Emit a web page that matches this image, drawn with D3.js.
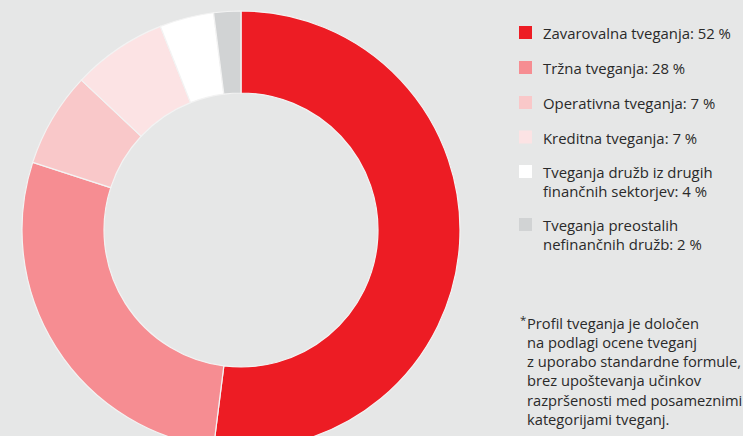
<!DOCTYPE html>
<html>
<head>
<meta charset="utf-8">
<script src="https://cdn.jsdelivr.net/npm/d3@7"></script>
<style>
  html, body { margin: 0; padding: 0; background: #e6e7e7; }
  svg { display: block; }
  text { font-family: "Open Sans", "Noto Sans", sans-serif; fill: #2a2a2a; }
</style>
</head>
<body>
<svg id="chart" width="743" height="436"></svg>
<script>
// Risk profile shares (%)
const categories = [
  ["Zavarovalna tveganja: 52 %"],
  ["Tržna tveganja: 28 %"],
  ["Operativna tveganja: 7 %"],
  ["Kreditna tveganja: 7 %"],
  ["Tveganja družb iz drugih", "finančnih sektorjev: 4 %"],
  ["Tveganja preostalih", "nefinančnih družb: 2 %"]
];
const values = [52, 28, 7, 7, 4, 2];
const colors = ["#ed1c24", "#f68d92", "#f9c8c9", "#fce3e4", "#ffffff", "#d1d3d4"];
const footnote = [
  "Profil tveganja je določen",
  "na podlagi ocene tveganj",
  "z uporabo standardne formule,",
  "brez upoštevanja učinkov",
  "razpršenosti med posameznimi",
  "kategorijami tveganj."
];

const svg = d3.select("#chart");
const W = 743, H = 436;

svg.append("rect").attr("width", W).attr("height", H).attr("fill", "#e6e7e7");

// Donut
const cx = 241, cy = 230, rOuter = 219, rInner = 137;
const pie = d3.pie().sort(null).value(d => d);
const arc = d3.arc().innerRadius(rInner).outerRadius(rOuter);

svg.append("g")
  .attr("transform", `translate(${cx},${cy})`)
  .selectAll("path")
  .data(pie(values))
  .join("path")
  .attr("d", arc)
  .attr("fill", (d, i) => colors[i])
  .attr("stroke", "#f3f3f3")
  .attr("stroke-width", 1.2);

// Legend
const legend = svg.append("g").attr("class", "legend");
const swX = 519, sw = 13, txtX = 543, lineH = 18.7;
const rowTops = [26, 61, 96, 130.5, 165, 218];

categories.forEach((lines, i) => {
  const g = legend.append("g");
  g.append("rect")
    .attr("x", swX).attr("y", rowTops[i])
    .attr("width", sw).attr("height", sw)
    .attr("fill", colors[i]);
  lines.forEach((t, j) => {
    g.append("text")
      .attr("x", txtX)
      .attr("y", rowTops[i] + 13.3 + j * lineH)
      .attr("font-size", 14.9)
      .text(t);
  });
});

// Footnote
const note = svg.append("g").attr("class", "note");
note.append("text")
  .attr("x", 520).attr("y", 324)
  .attr("font-size", 11.5)
  .text("*");
footnote.forEach((t, j) => {
  note.append("text")
    .attr("x", 527)
    .attr("y", 328.5 + j * 19.3)
    .attr("font-size", 14.7)
    .text(t);
});
</script>
</body>
</html>
